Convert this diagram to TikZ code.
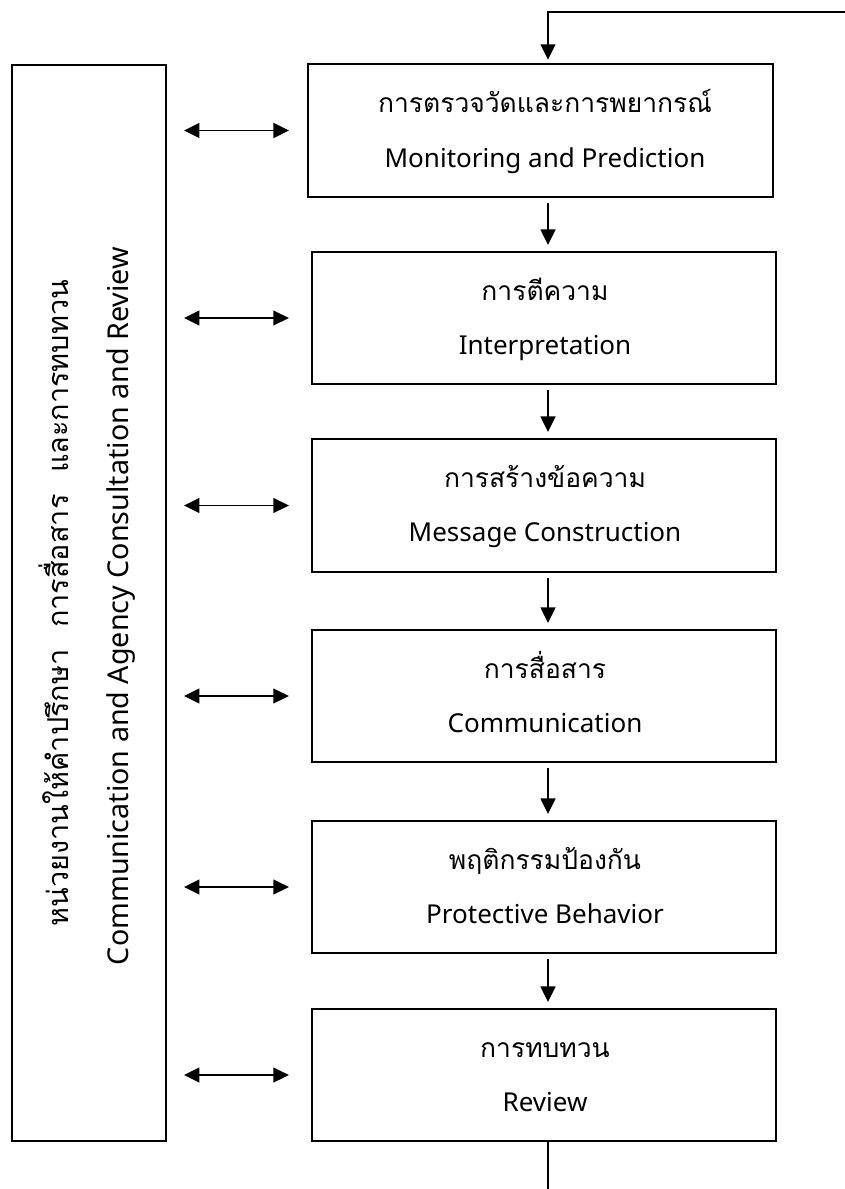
\documentclass[tikz,border=0pt]{standalone}
\usepackage{fontspec}
\setmainfont{Noto Sans}
\newfontfamily\thaifont[Script=Thai]{Loma}
\usetikzlibrary{arrows.meta}
\begin{document}
\begin{tikzpicture}[x=0.025cm,y=-0.025cm,
  every node/.style={inner sep=0pt, outer sep=0pt},
  box/.style={draw, line width=1.3pt, minimum width=11.6cm, minimum height=3.3cm},
  en/.style={font=\fontsize{18.5}{22}\selectfont, anchor=base},
  th/.style={font=\fontsize{18.8}{22}\selectfont\thaifont, anchor=base},
  len/.style={font=\fontsize{20.4}{24}\selectfont, anchor=base, rotate=90},
  lth/.style={font=\fontsize{20.5}{24}\selectfont\thaifont, anchor=base, rotate=90},
  arr/.style={line width=1.3pt, -{Triangle[length=11pt,width=10.5pt]}},
  dbl/.style={line width=1.3pt, {Triangle[length=11pt,width=10.5pt]}-{Triangle[length=11pt,width=10.5pt]}}]
\useasboundingbox (0,0) rectangle (845,1189);

% left box
\node[draw, line width=1.3pt, minimum width=3.85cm, minimum height=26.9cm] (lb) at (89,603) {};
\node[lth] (lthai) at (68,603) {หน่วยงานให้คำปรึกษา\hspace{0.75em}การสื่อสาร\hspace{0.75em}และการทบทวน};
\node[len] (leng) at (128,606) {Communication and Agency Consultation and Review};

% boxes
\node[box, minimum width=11.625cm, minimum height=3.325cm] (b1) at (540.5,130.5) {};
\node[box] (b2) at (544,318) {};
\node[box, minimum height=3.325cm] (b3) at (544,505.5) {};
\node[box] (b4) at (544,696) {};
\node[box] (b5) at (544,887) {};
\node[box] (b6) at (544,1075) {};

\node[th] (t1a) at (545,113) {การตรวจวัดและการพยากรณ์};
\node[en] (t1b) at (545,167) {Monitoring and Prediction};
\node[th] (t2a) at (545,300) {การตีความ};
\node[en] (t2b) at (545,354) {Interpretation};
\node[th] (t3a) at (545,487) {การสร้างข้อความ};
\node[en] (t3b) at (545,541) {Message Construction};
\node[th] (t4a) at (545,678) {การสื่อสาร};
\node[en] (t4b) at (545,732) {Communication};
\node[th] (t5a) at (545,869) {พฤติกรรมป้องกัน};
\node[en] (t5b) at (545,923) {Protective Behavior};
\node[th] (t6a) at (545,1057) {การทบทวน};
\node[en] (t6b) at (545,1111) {Review};

% coordinates
\coordinate (tr) at (845,12);
\coordinate (tl) at (548,12);
\coordinate (bot) at (548,1189);

% flow arrows
\draw[arr, shorten >=3pt] (tr) -- (tl) -- (b1.north -| tl);
\draw[arr, shorten <=4.5pt, shorten >=5pt] (b1.south -| tl) -- (b2.north -| tl);
\draw[arr, shorten <=4.5pt, shorten >=5pt] (b2.south -| tl) -- (b3.north -| tl);
\draw[arr, shorten <=4.5pt, shorten >=5pt] (b3.south -| tl) -- (b4.north -| tl);
\draw[arr, shorten <=4.5pt, shorten >=5pt] (b4.south -| tl) -- (b5.north -| tl);
\draw[arr, shorten <=4.5pt, shorten >=5pt] (b5.south -| tl) -- (b6.north -| tl);
\draw[line width=1.3pt] (b6.south -| bot) -- (bot);

% double arrows
\draw[dbl, shorten <=12.8pt, shorten >=13.5pt] (lb.east |- b1.west) -- (b1.west);
\draw[dbl, shorten <=12.8pt, shorten >=16.4pt] (lb.east |- b2.west) -- (b2.west);
\draw[dbl, shorten <=12.8pt, shorten >=16.4pt] (lb.east |- b3.west) -- (b3.west);
\draw[dbl, shorten <=12.8pt, shorten >=16.4pt] (lb.east |- b4.west) -- (b4.west);
\draw[dbl, shorten <=12.8pt, shorten >=16.4pt] (lb.east |- b5.west) -- (b5.west);
\draw[dbl, shorten <=12.8pt, shorten >=16.4pt] (lb.east |- b6.west) -- (b6.west);
\end{tikzpicture}
\end{document}
